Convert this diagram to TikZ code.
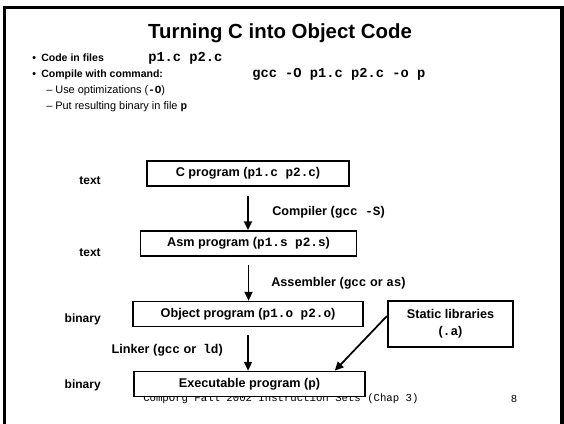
\documentclass[tikz,border=0pt]{standalone}
\usepackage{fontspec}
\setmainfont{Liberation Sans}
\setmonofont{Liberation Mono}
\usetikzlibrary{
		arrows.meta,
		positioning
	}
\tikzset{
		>={Triangle[length=6.5pt,width=6pt]},
		stagebox/.style={draw, line width=1.3pt, fill=white, inner sep=0pt,
			minimum height=18.75pt, font=\fontsize{9.5}{10}\selectfont\bfseries},
		kindlabel/.style={inner sep=0pt, font=\fontsize{9}{10}\selectfont\bfseries},
		toollabel/.style={inner sep=0pt, font=\fontsize{9.5}{10}\selectfont\bfseries},
		bulletline/.style={inner sep=0pt, anchor=base west, font=\fontsize{7.9}{10}\selectfont\bfseries},
		subline/.style={inner sep=0pt, anchor=base west, font=\fontsize{8.2}{10}\selectfont},
		codetext/.style={inner sep=0pt, anchor=base west, font=\fontsize{10.3}{10}\selectfont\bfseries\ttfamily},
		flow/.style={->, line width=1.3pt}
	}

\begin{document}
\begin{tikzpicture}[x=0.75pt, y=-0.75pt]
    \useasboundingbox (0,0) rectangle (564,424);

    % slide frame
    \draw[line width=2.3pt] (4.5,7.5) rectangle (562,440);

    % title and bullets
    \node (title) at (280,33) {\fontsize{15.3}{18}\selectfont\bfseries Turning C into Object Code};
    \node[bulletline] (dot1) at (32,62) {\textbullet};
    \node[bulletline] (files) at (41,62) {Code in files};
    \node[codetext] (filesc) at (148,62) {p1.c p2.c};
    \node[bulletline] (dot2) at (32,78) {\textbullet};
    \node[bulletline] (cmd) at (41,78) {Compile with command:};
    \node[codetext] (cmdc) at (252,78) {gcc -O p1.c p2.c -o p};
    \node[subline] (opt) at (46,94) {-- Use optimizations (\textbf{\ttfamily -O})};
    \node[subline] (out) at (46,110) {-- Put resulting binary in file \textbf{\ttfamily p}};

    % footer (the last box is drawn over it)
    \node[inner sep=0pt, anchor=west, font=\fontsize{8}{9}\selectfont\ttfamily] (foot) at (143,399)
        {CompOrg Fall 2002 Instruction Sets (Chap 3)};
    \node[inner sep=0pt, font=\fontsize{8}{9}\selectfont\ttfamily] (page) at (514,399) {8};

    % the stages
    \node[stagebox, minimum width=151.5pt] (csrc) at (248,173.5) {C program (\texttt{p1.c p2.c})};
    \node[stagebox, minimum width=162pt] (asm) at (248.5,243.3) {Asm program (\texttt{p1.s p2.s})};
    \node[stagebox, minimum width=172.5pt] (obj) at (248,314) {Object program (\texttt{p1.o p2.o})};
    \node[stagebox, minimum width=173pt] (exe) at (249.5,384) {Executable program (\texttt{p})};
    \node[stagebox, minimum width=94pt, minimum height=34pt, align=center] (lib) at (450.5,324)
        {Static libraries\\[3pt](\texttt{.a})};

    % what kind of file each stage is
    \node[kindlabel, anchor=east] (k1) at (101,181) {text};
    \node[kindlabel, anchor=east] (k2) at (101,253) {text};
    \node[kindlabel, anchor=east] (k3) at (101,319) {binary};
    \node[kindlabel, anchor=east] (k4) at (101,385) {binary};

    % the tools
    \node[toollabel, anchor=west] (comp) at (272,212) {Compiler (\texttt{gcc -S})};
    \node[toollabel, anchor=west] (assem) at (271,283) {Assembler (\texttt{gcc} or \texttt{as})};
    \node[toollabel, anchor=east] (link) at (223,350) {Linker (\texttt{gcc} or~~\texttt{ld})};

    % draw the arrows
    \draw[flow, shorten <=6.5pt] (csrc.south) -- (csrc.south |- asm.north);
    \draw[flow, shorten <=6pt] (asm.south) -- (asm.south |- obj.north);
    \draw[flow, shorten <=6pt] (obj.south) -- (obj.south |- exe.north);
    \draw[flow] ([yshift=6pt]lib.west) -- ([xshift=64pt]exe.north);

\end{tikzpicture}
\end{document}
